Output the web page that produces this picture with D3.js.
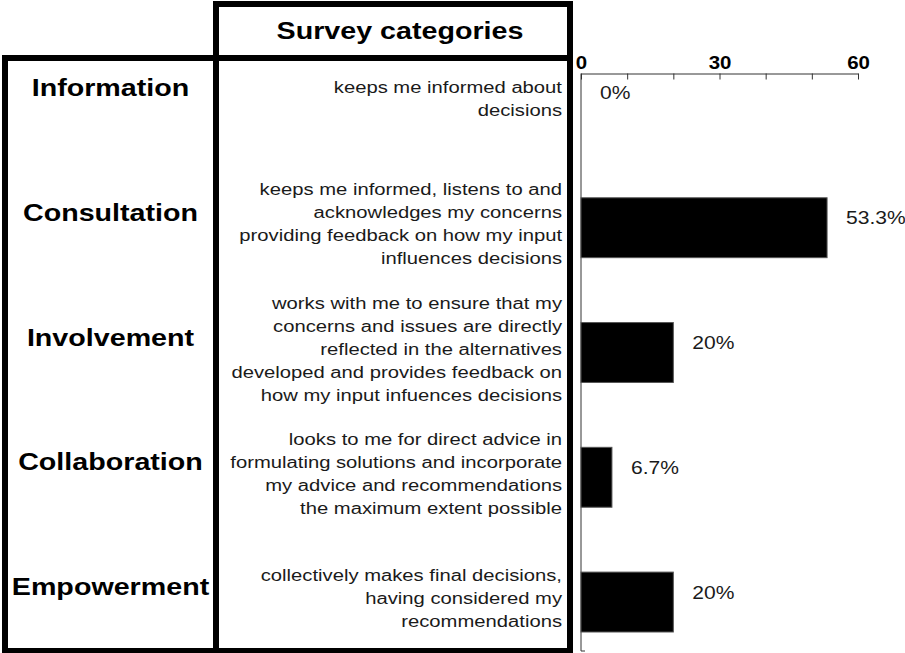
<!DOCTYPE html>
<html>
<head>
<meta charset="utf-8">
<script src="https://cdn.jsdelivr.net/npm/d3@7"></script>
<style>
  body { margin: 0; background: #fff; }
  text { font-family: "Liberation Sans", Arial, sans-serif; }
</style>
</head>
<body>
<div id="chart"></div>
<script>
const categories = ['Information', 'Consultation', 'Involvement', 'Collaboration', 'Empowerment'];
const descriptions = [
  ['keeps me informed about', 'decisions'],
  ['keeps me informed, listens to and', 'acknowledges my concerns',
   'providing feedback on how my input', 'influences decisions'],
  ['works with me to ensure that my', 'concerns and issues are directly',
   'reflected in the alternatives', 'developed and provides feedback on',
   'how my input infuences decisions'],
  ['looks to me for direct advice in', 'formulating solutions and incorporate',
   'my advice and recommendations', 'the maximum extent possible'],
  ['collectively makes final decisions,', 'having considered my', 'recommendations']
];
const values = [0, 53.3, 20, 6.7, 20];
const valueLabels = ['0%', '53.3%', '20%', '6.7%', '20%'];
const tickValues = [0, 10, 20, 30, 40, 50, 60];
const labelledTicks = [0, 30, 60];
const headerTitle = 'Survey categories';

const width = 905;
const height = 653;
const stretch = 1.17; // text in the original is a bit wide

const svg = d3.select('#chart')
  .append('svg')
  .attr('width', width)
  .attr('height', height);

// table frame
const colLeft = 5, colMid = 216, colRight = 570;
const headTop = 4, rowTop = 58, tableBottom = 651;
const lineW = 6;

const frame = svg.append('g')
  .attr('fill', 'none')
  .attr('stroke', '#000')
  .attr('stroke-width', lineW);

frame.append('rect')
  .attr('x', colMid).attr('y', headTop)
  .attr('width', colRight - colMid).attr('height', rowTop - headTop);
frame.append('rect')
  .attr('x', colLeft).attr('y', rowTop)
  .attr('width', colMid - colLeft).attr('height', tableBottom - rowTop);
frame.append('rect')
  .attr('x', colMid).attr('y', rowTop)
  .attr('width', colRight - colMid).attr('height', tableBottom - rowTop);

svg.append('text')
  .attr('transform', 'translate(400,' + (rowTop - 19) + ') scale(' + stretch + ',1)')
  .attr('text-anchor', 'middle')
  .style('font-weight', 'bold')
  .style('font-size', '24.5px')
  .attr('fill', '#000')
  .text(headerTitle);

// scales
const x = d3.scaleLinear()
  .domain([0, 60])
  .range([581, 858]);

const y = d3.scaleBand()
  .domain(categories)
  .range([73, 632])
  .paddingInner(0.52)
  .paddingOuter(0);

const axisY = 73.5;

// top axis, ticks pointing down
const xAxis = d3.axisTop(x)
  .tickValues(tickValues)
  .tickSizeInner(-6)
  .tickSizeOuter(0)
  .tickPadding(5)
  .tickFormat(function (d) { return labelledTicks.includes(d) ? d : ''; });

const axisG = svg.append('g')
  .attr('transform', 'translate(0,' + axisY + ')')
  .call(xAxis);

axisG.select('.domain').attr('stroke', '#333');
axisG.selectAll('.tick line').attr('stroke', '#333');
axisG.selectAll('.tick text')
  .attr('fill', '#000')
  .style('font-family', '"Liberation Sans", Arial, sans-serif')
  .style('font-weight', 'bold')
  .style('font-size', '17.5px')
  .attr('transform', 'scale(' + stretch + ',1)')
  .attr('x', function () { return 0; });

// keep labels centred on ticks after the stretch
axisG.selectAll('.tick').each(function () {
  d3.select(this).select('text')
    .attr('transform', 'scale(' + stretch + ',1)');
});

// vertical axis line with a small foot
svg.append('path')
  .attr('d', 'M' + x(0) + ',' + axisY + 'V' + tableBottom + 'h4')
  .attr('fill', 'none')
  .attr('stroke', '#333')
  .attr('stroke-width', 1);

// bars
svg.selectAll('.bar')
  .data(values)
  .enter()
  .append('rect')
  .attr('class', 'bar')
  .attr('x', x(0))
  .attr('y', function (d, i) { return y(categories[i]); })
  .attr('width', function (d) { return x(d) - x(0); })
  .attr('height', y.bandwidth())
  .attr('fill', '#000')
  .attr('stroke', function (d) { return d > 0 ? '#555' : 'none'; })
  .attr('stroke-width', 1);

// value labels
svg.selectAll('.value')
  .data(values)
  .enter()
  .append('text')
  .attr('class', 'value')
  .attr('transform', function (d, i) {
    const cy = y(categories[i]) + y.bandwidth() / 2 - 10;
    return 'translate(' + (x(d) + 19) + ',' + (cy + 6.5) + ') scale(' + stretch + ',1)';
  })
  .style('font-size', '18px')
  .attr('fill', '#1a1a1a')
  .text(function (d, i) { return valueLabels[i]; });

// category names
svg.selectAll('.category')
  .data(categories)
  .enter()
  .append('text')
  .attr('class', 'category')
  .attr('transform', function (d) {
    const cy = y(d) + y.bandwidth() / 2 - 16;
    return 'translate(' + ((colLeft + colMid) / 2) + ',' + (cy + 9) + ') scale(' + stretch + ',1)';
  })
  .attr('text-anchor', 'middle')
  .style('font-weight', 'bold')
  .style('font-size', '24.5px')
  .attr('fill', '#000')
  .text(function (d) { return d; });

// descriptions
const lineH = 23;
categories.forEach(function (c, i) {
  const lines = descriptions[i];
  const cy = y(c) + y.bandwidth() / 2 - 4;
  const g = svg.append('g');
  lines.forEach(function (line, j) {
    const ly = cy + (j - (lines.length - 1) / 2) * lineH + 6;
    g.append('text')
      .attr('transform', 'translate(562,' + ly + ') scale(' + stretch + ',1)')
      .attr('text-anchor', 'end')
      .style('font-size', '17.3px')
      .attr('fill', '#1a1a1a')
      .text(line);
  });
});
</script>
</body>
</html>
